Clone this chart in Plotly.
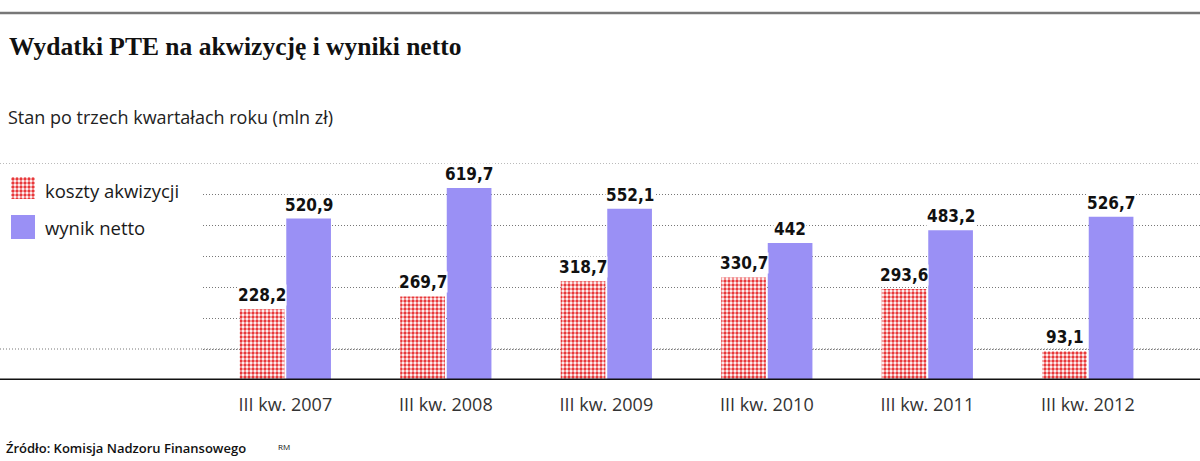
import plotly.graph_objects as go

categories = ["III kw. 2007", "III kw. 2008", "III kw. 2009", "III kw. 2010", "III kw. 2011", "III kw. 2012"]
koszty = [228.2, 269.7, 318.7, 330.7, 293.6, 93.1]
wynik = [520.9, 619.7, 552.1, 442.0, 483.2, 526.7]
y_ticks = [100, 200, 300, 400, 500, 600, 700]

RED = "#e8383a"
PURPLE = "#9a90f5"
W, H = 1200, 461
DOT = "1px,2px"


def px_x(p):
    return p / W


def px_y(p):
    return (H - p) / H


def fmt(v):
    return f"{v:g}".replace(".", ",")


fig = go.Figure()

fig.add_trace(go.Bar(
    x=categories, y=koszty, name="koszty akwizycji",
    marker=dict(color="white", line=dict(width=0),
                pattern=dict(shape=".", fgcolor=RED, bgcolor="white", size=4, solidity=0.55, fillmode="replace")),
    showlegend=False, hoverinfo="skip",
))
fig.add_trace(go.Bar(
    x=categories, y=wynik, name="wynik netto",
    marker=dict(color=PURPLE, line=dict(width=0)),
    showlegend=False, hoverinfo="skip",
))

# legend swatches
fig.add_trace(go.Bar(x=[0.5], y=[1], width=[1], xaxis="x2", yaxis="y2", showlegend=False, hoverinfo="skip",
                     marker=dict(color="white", line=dict(width=0),
                                 pattern=dict(shape=".", fgcolor=RED, bgcolor="white", size=4, solidity=0.55, fillmode="replace"))))
fig.add_trace(go.Bar(x=[0.5], y=[1], width=[1], xaxis="x3", yaxis="y3", showlegend=False, hoverinfo="skip",
                     marker=dict(color=PURPLE, line=dict(width=0))))

annotations = []
# data labels with white background
for i, c in enumerate(categories):
    for v, off in ((koszty[i], -0.145), (wynik[i], 0.145)):
        annotations.append(dict(
            x=i + off, y=v, xref="x", yref="y", text="<b>" + fmt(v) + "</b>", showarrow=False,
            yanchor="bottom", yshift=3, bgcolor="white", borderpad=0,
            font=dict(family="DejaVu Sans Condensed", size=17, color="#111"),
        ))

annotations += [
    dict(x=px_x(7), y=px_y(46), xref="paper", yref="paper", xanchor="left", yanchor="middle", showarrow=False,
         text="<b>Wydatki PTE na akwizycję i wyniki netto</b>",
         font=dict(family="Liberation Serif", size=25.5, color="#111")),
    dict(x=px_x(6), y=px_y(117), xref="paper", yref="paper", xanchor="left", yanchor="middle", showarrow=False,
         text="Stan po trzech kwartałach roku (mln zł)",
         font=dict(family="Open Sans", size=18, color="#222")),
    dict(x=px_x(43), y=px_y(190), xref="paper", yref="paper", xanchor="left", yanchor="middle", showarrow=False,
         text="koszty akwizycji", font=dict(family="Open Sans", size=18.5, color="#1a1a1a")),
    dict(x=px_x(43), y=px_y(227), xref="paper", yref="paper", xanchor="left", yanchor="middle", showarrow=False,
         text="wynik netto", font=dict(family="Open Sans", size=18.5, color="#1a1a1a")),
    dict(x=px_x(4), y=px_y(448), xref="paper", yref="paper", xanchor="left", yanchor="middle", showarrow=False,
         text="Źródło: Komisja Nadzoru Finansowego", font=dict(family="Open Sans", size=13, color="#111", weight=600)),
    dict(x=px_x(276), y=px_y(446), xref="paper", yref="paper", xanchor="left", yanchor="middle", showarrow=False,
         text="RM", font=dict(family="Open Sans", size=8, color="#111")),
]

shapes = [
    # top rule
    dict(type="line", xref="paper", yref="paper", x0=0, x1=1, y0=px_y(13), y1=px_y(13),
         line=dict(color="#777", width=2.5)),
    # full-width gridlines at first and last tick
    dict(type="line", xref="paper", yref="y", x0=0, x1=1, y0=y_ticks[0], y1=y_ticks[0],
         line=dict(color="#777", width=1, dash=DOT), layer="below"),
    dict(type="line", xref="paper", yref="y", x0=0, x1=1, y0=y_ticks[-1], y1=y_ticks[-1],
         line=dict(color="#777", width=1, dash=DOT), layer="below"),
    # baseline
    dict(type="line", xref="paper", yref="y", x0=0, x1=1, y0=0, y1=0,
         line=dict(color="#111", width=3)),
]

fig.update_layout(
    width=W, height=H,
    margin=dict(l=0, r=0, t=0, b=0),
    paper_bgcolor="white", plot_bgcolor="white",
    barmode="group", bargap=0.42, bargroupgap=0.04,
    xaxis=dict(domain=[px_x(203), 1], range=[-0.513, 5.699], type="category",
               showgrid=False, showline=False, zeroline=False, ticks="",
               tickfont=dict(family="Open Sans", size=18, color="#333"), ticklabelstandoff=12),
    yaxis=dict(domain=[px_y(380), px_y(163)], range=[0, 700], tickvals=y_ticks,
               showticklabels=False, showgrid=True, gridcolor="#777", gridwidth=1, griddash=DOT,
               zeroline=False, showline=False, ticks=""),
    xaxis2=dict(domain=[px_x(11), px_x(35)], range=[0, 1], visible=False),
    yaxis2=dict(domain=[px_y(199), px_y(177)], range=[0, 1], visible=False, anchor="x2"),
    xaxis3=dict(domain=[px_x(11), px_x(35)], range=[0, 1], visible=False),
    yaxis3=dict(domain=[px_y(239), px_y(215)], range=[0, 1], visible=False, anchor="x3"),
    annotations=annotations,
    shapes=shapes,
    showlegend=False,
)

fig.write_html("out.html", config={"displayModeBar": False},
               post_script="document.body.style.margin='0px';document.body.style.overflow='hidden';")
